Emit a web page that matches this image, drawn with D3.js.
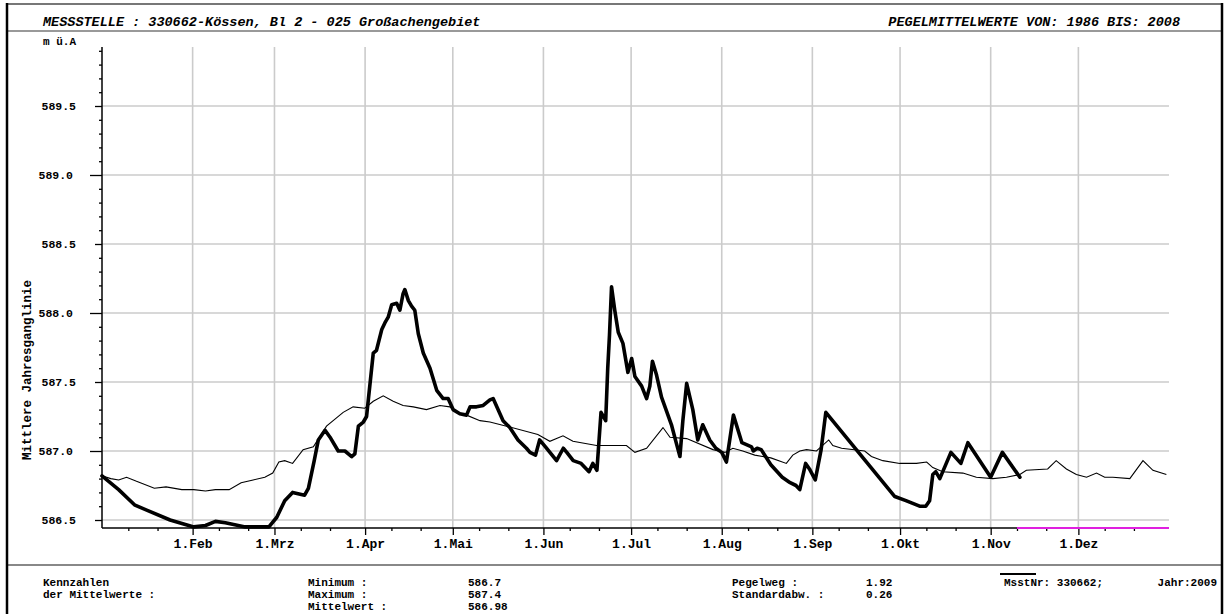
<!DOCTYPE html>
<html>
<head>
<meta charset="utf-8">
<script src="https://cdn.jsdelivr.net/npm/d3@7"></script>
<style>
  body { margin: 0; background: #fff; }
  svg text { font-family: "Courier New", "Liberation Mono", monospace; font-weight: bold; fill: #000; }
</style>
</head>
<body>
<script>
// Pegel Koessen - Jahresganglinie 2009 gegen Mittelwerte 1986-2008

var monthNames = ["Jan", "Feb", "Mrz", "Apr", "Mai", "Jun", "Jul", "Aug", "Sep", "Okt", "Nov", "Dez"];
var monthStart = [0, 31, 59, 90, 120, 151, 181, 212, 243, 273, 304, 334];

// [Tag im Jahr, m ue.A.]
var meanSeries = [
  [0, 586.82], [3.0, 586.80], [5.7, 586.79], [8.4, 586.81], [11.8, 586.78], [17.9, 586.73],
  [21.9, 586.74], [27.3, 586.72], [31.4, 586.72], [35.4, 586.71], [38.8, 586.72], [43.5, 586.72],
  [47.6, 586.77], [51.7, 586.79], [55.7, 586.81], [58.4, 586.84], [60.5, 586.92], [62.5, 586.93],
  [65.2, 586.91], [68.8, 587.01], [72.3, 587.03], [76.8, 587.18], [82.5, 587.28], [85.9, 587.32],
  [89.9, 587.31], [92.8, 587.36], [96.2, 587.40], [99.6, 587.36], [103.0, 587.33], [106.5, 587.32],
  [111.0, 587.30], [115.6, 587.33], [119.0, 587.32], [121.3, 587.28], [124.7, 587.26], [129.3, 587.22],
  [132.7, 587.21], [138.4, 587.18], [149.1, 587.12], [153.2, 587.07], [157.7, 587.11], [161.1, 587.07],
  [169.2, 587.04], [179.4, 587.04], [182.3, 586.99], [186.3, 587.02], [191.9, 587.17], [194.3, 587.10],
  [200.0, 587.09], [209.0, 587.01], [213.1, 586.99], [215.8, 587.02], [219.2, 587.00], [223.3, 586.97],
  [228.8, 586.95], [234.1, 586.91], [236.3, 586.97], [238.7, 587.00], [241.0, 587.01], [244.4, 587.00],
  [248.6, 587.08], [250.0, 587.04], [253.0, 587.02], [260.9, 587.00], [263.2, 586.96], [267.1, 586.93],
  [272.9, 586.91], [278.6, 586.91], [282.1, 586.92], [284.2, 586.88], [287.6, 586.85], [294.5, 586.84],
  [299.1, 586.81], [304.7, 586.80], [309.4, 586.81], [314.0, 586.83], [316.2, 586.86], [323.5, 586.87],
  [326.4, 586.93], [329.9, 586.87], [333.3, 586.83], [336.8, 586.81], [340.2, 586.84], [343.0, 586.81],
  [345.8, 586.81], [351.6, 586.80], [356.1, 586.93], [359.5, 586.86], [364.1, 586.83]
];

var series2009 = [
  [0, 586.82], [5.7, 586.72], [11.1, 586.61], [16.5, 586.56], [23.3, 586.50], [31.4, 586.45],
  [35.4, 586.46], [38.8, 586.49], [42.2, 586.48], [49.0, 586.45], [57.1, 586.45], [59.8, 586.52],
  [62.5, 586.64], [65.2, 586.70], [69.3, 586.68], [70.6, 586.73], [72.6, 586.93], [74.0, 587.08],
  [76.3, 587.15], [78.0, 587.10], [80.8, 587.00], [83.1, 587.00], [85.4, 586.96], [86.5, 586.98],
  [87.7, 587.18], [89.4, 587.21], [90.5, 587.25], [92.8, 587.71], [93.9, 587.73], [95.7, 587.88],
  [96.8, 587.93], [97.9, 587.97], [99.1, 588.06], [100.8, 588.07], [101.9, 588.02], [103.0, 588.14],
  [103.6, 588.17], [104.8, 588.09], [105.9, 588.05], [107.0, 588.02], [108.2, 587.85], [109.9, 587.71],
  [112.2, 587.60], [114.5, 587.44], [116.7, 587.38], [118.4, 587.38], [120.1, 587.30], [122.4, 587.27],
  [124.7, 587.26], [125.9, 587.32], [128.1, 587.32], [130.4, 587.33], [132.7, 587.37], [133.8, 587.38],
  [137.2, 587.22], [139.5, 587.17], [142.3, 587.08], [145.2, 587.02], [146.4, 586.99], [148.3, 586.97],
  [149.7, 587.08], [151.7, 587.03], [155.5, 586.93], [157.8, 587.02], [159.0, 586.99], [161.2, 586.93],
  [163.9, 586.91], [166.6, 586.85], [167.9, 586.91], [169.3, 586.86], [170.7, 587.28], [171.8, 587.24],
  [172.3, 587.22], [173.0, 587.60], [173.6, 587.84], [174.3, 588.19], [175.4, 588.02], [176.6, 587.86],
  [178.2, 587.78], [179.9, 587.57], [181.2, 587.67], [182.3, 587.54], [184.6, 587.47], [186.3, 587.38],
  [187.4, 587.47], [188.3, 587.65], [189.7, 587.55], [191.4, 587.39], [194.8, 587.19], [196.3, 587.07],
  [197.7, 586.96], [198.7, 587.22], [200.0, 587.49], [202.1, 587.30], [203.8, 587.08], [205.5, 587.19],
  [207.9, 587.08], [210.0, 587.02], [212.0, 586.99], [213.6, 586.92], [216.0, 587.26], [218.9, 587.06],
  [222.2, 587.03], [222.8, 587.00], [224.1, 587.02], [225.5, 587.01], [228.8, 586.90], [232.7, 586.81],
  [235.4, 586.77], [237.4, 586.75], [238.7, 586.72], [240.7, 586.91], [242.0, 586.87], [244.0, 586.79],
  [246.0, 587.01], [247.6, 587.28], [271.2, 586.67], [275.0, 586.64], [279.7, 586.60], [281.8, 586.60],
  [283.1, 586.64], [284.2, 586.83], [285.2, 586.85], [286.6, 586.80], [290.4, 586.99], [293.8, 586.91],
  [296.2, 587.06], [304.0, 586.81], [308.0, 586.99], [314.0, 586.81]
];

var gapStart = 313;   // ab hier keine Daten (magenta)

var statsLeft = [["Minimum :", "586.7"], ["Maximum :", "587.4"], ["Mittelwert :", "586.98"]];
var statsRight = [["Pegelweg :", "1.92"], ["Standardabw. :", "0.26"]];

var W = 1231, H = 614;
var svg = d3.select("body").append("svg").attr("width", W).attr("height", H);

var x = d3.scaleLinear().domain([0, 365]).range([102, 1169]);
var y = d3.scaleLinear().domain([586.5, 589.5]).range([520, 106]);
var yTop = 47, yBot = 528;

// frame
svg.append("line").attr("x1", 7).attr("x2", 1223).attr("y1", 4).attr("y2", 4).attr("stroke", "#777").attr("stroke-width", 2);
svg.append("line").attr("x1", 7).attr("x2", 1223).attr("y1", 31).attr("y2", 31).attr("stroke", "#777").attr("stroke-width", 1.5);
svg.append("line").attr("x1", 7).attr("x2", 1223).attr("y1", 565).attr("y2", 565).attr("stroke", "#888").attr("stroke-width", 2);
svg.append("line").attr("x1", 7).attr("x2", 7).attr("y1", 3).attr("y2", H).attr("stroke", "#000").attr("stroke-width", 2.5);
svg.append("line").attr("x1", 1222).attr("x2", 1222).attr("y1", 3).attr("y2", H).attr("stroke", "#000").attr("stroke-width", 2.5);

// header
svg.append("text").attr("x", 43).attr("y", 26).style("font-style", "italic").style("font-size", "13.5px")
  .text("MESSSTELLE : 330662-Kössen, Bl 2 - 025 Großachengebiet");
svg.append("text").attr("x", 1180).attr("y", 26).attr("text-anchor", "end").style("font-style", "italic").style("font-size", "13.5px")
  .text("PEGELMITTELWERTE VON: 1986 BIS: 2008");
svg.append("text").attr("x", 43).attr("y", 45).style("font-size", "11px").text("m ü.A");

// grid
var hGrid = d3.range(586.5, 589.51, 0.5);
svg.append("g").selectAll("line").data(hGrid).enter().append("line")
  .attr("x1", x(0)).attr("x2", x(365))
  .attr("y1", d => y(d)).attr("y2", d => y(d))
  .attr("stroke", "#cbcbcb").attr("stroke-width", 1.6);
svg.append("g").selectAll("line").data(monthStart.slice(1)).enter().append("line")
  .attr("x1", d => x(d)).attr("x2", d => x(d))
  .attr("y1", yTop).attr("y2", yBot)
  .attr("stroke", "#cbcbcb").attr("stroke-width", 1.6);

// y axis
var minorY = d3.range(5865, 5900).map(v => v / 10).filter(v => Math.round(v * 10) % 5 !== 0);
var halfY = [586.5, 587.5, 588.5, 589.5];
var fullY = [587, 588, 589];
var yAxisG = svg.append("g").attr("transform", "translate(" + x(0) + ",0)");
yAxisG.append("g").call(d3.axisLeft(y).tickValues(minorY).tickSize(3).tickFormat(""));
yAxisG.append("g").call(d3.axisLeft(y).tickValues(halfY).tickSize(7).tickPadding(19).tickFormat(d3.format(".1f")));
yAxisG.append("g").call(d3.axisLeft(y).tickValues(fullY).tickSize(12).tickPadding(17).tickFormat(d3.format(".1f")));
yAxisG.selectAll(".domain").remove();
yAxisG.selectAll("line").attr("stroke", "#000").attr("stroke-width", 1.3);
yAxisG.selectAll("text").style("font-size", "11.5px");
svg.append("line").attr("x1", x(0)).attr("x2", x(0)).attr("y1", yTop).attr("y2", yBot).attr("stroke", "#000").attr("stroke-width", 1.5);

svg.append("text").attr("transform", "translate(31,370) rotate(-90)").attr("text-anchor", "middle")
  .style("font-size", "12.5px").text("Mittlere Jahresganglinie");

// x axis
var minorX = [];
monthStart.forEach(function(m) { minorX.push(m + 9, m + 19); });
var xAxisG = svg.append("g").attr("transform", "translate(0," + yBot + ")");
xAxisG.append("g").call(d3.axisBottom(x).tickValues(minorX).tickSize(3).tickFormat(""));
xAxisG.append("g").call(d3.axisBottom(x).tickValues(monthStart.slice(1)).tickSize(7).tickPadding(4)
  .tickFormat(d => "1." + monthNames[monthStart.indexOf(d)]));
xAxisG.selectAll(".domain").remove();
xAxisG.selectAll("line").attr("stroke", "#000").attr("stroke-width", 1.3);
xAxisG.selectAll("text").style("font-size", "13px");
svg.append("line").attr("x1", x(0)).attr("x2", x(365)).attr("y1", yBot).attr("y2", yBot).attr("stroke", "#000").attr("stroke-width", 1.5);
svg.append("line").attr("x1", x(gapStart)).attr("x2", x(365)).attr("y1", yBot).attr("y2", yBot).attr("stroke", "#e020e0").attr("stroke-width", 2);

// lines
var line = d3.line().x(d => x(d[0])).y(d => y(d[1]));
svg.append("path").datum(meanSeries).attr("d", line).attr("fill", "none")
  .attr("stroke", "#000").attr("stroke-width", 1.1);
svg.append("path").datum(series2009).attr("d", line).attr("fill", "none")
  .attr("stroke", "#000").attr("stroke-width", 3.6).attr("stroke-linejoin", "round").attr("stroke-linecap", "round");

// Kennzahlen
var rowY = [586, 598, 610];
var foot = svg.append("g").style("font-size", "11px");
foot.append("text").attr("x", 43).attr("y", rowY[0]).text("Kennzahlen");
foot.append("text").attr("x", 43).attr("y", rowY[1]).text("der Mittelwerte :");
statsLeft.forEach(function(s, i) {
  foot.append("text").attr("x", 308).attr("y", rowY[i]).text(s[0]);
  foot.append("text").attr("x", 468).attr("y", rowY[i]).text(s[1]);
});
statsRight.forEach(function(s, i) {
  foot.append("text").attr("x", 732).attr("y", rowY[i]).text(s[0]);
  foot.append("text").attr("x", 866).attr("y", rowY[i]).text(s[1]);
});
foot.append("text").attr("x", 1004).attr("y", rowY[0]).text("MsstNr: 330662;");
foot.append("text").attr("x", 1217).attr("y", rowY[0]).attr("text-anchor", "end").text("Jahr:2009");
svg.append("line").attr("x1", 1000).attr("x2", 1036).attr("y1", 574).attr("y2", 574).attr("stroke", "#000").attr("stroke-width", 2);
</script>
</body>
</html>
